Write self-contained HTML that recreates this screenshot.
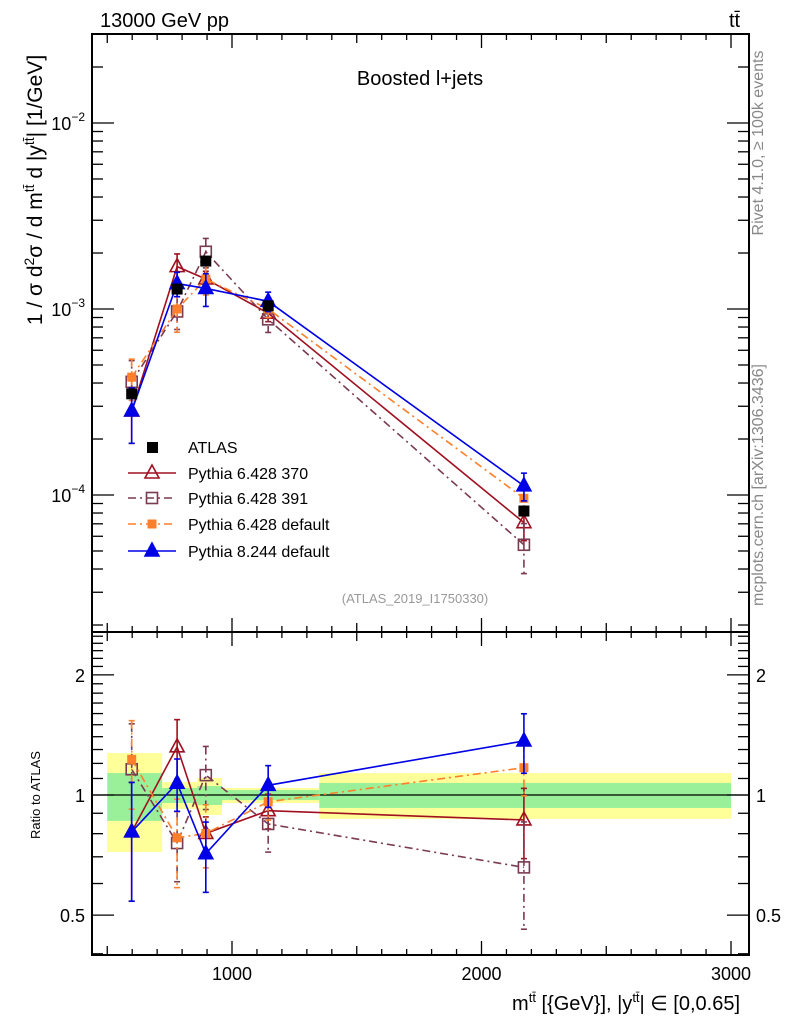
<!DOCTYPE html>
<html><head><meta charset="utf-8"><style>
body{margin:0;background:#fff;}
svg{display:block;font-family:"Liberation Sans",sans-serif;}
</style></head><body>
<svg id="c" width="786" height="1024" viewBox="0 0 786 1024" xmlns="http://www.w3.org/2000/svg">
<rect x="0" y="0" width="786" height="1024" fill="#fff"/>
<g id="bands"></g><g id="axes"></g><g id="marks"></g>
<text x="100" y="27" font-size="20">13000 GeV pp</text>
<text x="729" y="27" font-size="20">tt̄</text>
<text x="420" y="85" font-size="20" text-anchor="middle">Boosted l+jets</text>
<text x="415" y="603" font-size="13" fill="#999" text-anchor="middle">(ATLAS_2019_I1750330)</text>
<text transform="translate(42,190) rotate(-90)" font-size="21" text-anchor="middle">1 / σ d<tspan font-size="14" dy="-8">2</tspan><tspan dy="8">σ / d m</tspan><tspan font-size="14" dy="-8">tt̄</tspan><tspan dy="8"> d |y</tspan><tspan font-size="14" dy="-8">tt̄</tspan><tspan dy="8">| [1/GeV]</tspan></text>
<text transform="translate(40,795) rotate(-90)" font-size="13" text-anchor="middle">Ratio to ATLAS</text>
<text x="740" y="1010" font-size="20" text-anchor="end">m<tspan font-size="13" dy="-8">tt̄</tspan><tspan dy="8"> [{GeV}], |y</tspan><tspan font-size="13" dy="-8">tt̄</tspan><tspan dy="8">| ∈ [0,0.65]</tspan></text>
<text transform="translate(763,143) rotate(-90)" font-size="16" fill="#888" text-anchor="middle">Rivet 4.1.0, ≥ 100k events</text>
<text transform="translate(763,485) rotate(-90)" font-size="16" fill="#888" text-anchor="middle">mcplots.cern.ch [arXiv:1306.3436]</text>
</svg>
<script>
const xs=[598,780,895,1145,2170];
const binEdges=[500,720,860,960,1350,3000];
const atlas=[3.5e-4,1.28e-3,1.81e-3,1.04e-3,8.2e-5];
const bandYellowHi=[1.274,1.078,1.103,1.041,1.135];
const bandYellowLo=[0.72,0.923,0.891,0.955,0.871];
const bandGreenHi=[1.135,1.041,1.053,1.029,1.072];
const bandGreenLo=[0.861,0.955,0.944,0.971,0.928];
const p370=[2.83e-4,1.69e-3,1.45e-3,9.5e-4,7.1e-5];
const p370err=[0.33,0.17,0.1,0.1,0.2];
const p391=[4.06e-4,9.7e-4,2.03e-3,8.8e-4,5.4e-5];
const p391err=[0.3,0.2,0.18,0.15,0.3];
const p6def=[4.3e-4,1.0e-3,1.45e-3,1.0e-3,9.6e-5];
const p6deferr=[0.25,0.25,0.18,0.1,0.15];
const p8=[2.83e-4,1.37e-3,1.29e-3,1.10e-3,1.12e-4];
const p8err=[0.33,0.15,0.2,0.12,0.17];
const xTicks=[1000,2000,3000];
const ratioTicks=[0.5,1,2];

const NS="http://www.w3.org/2000/svg";
const L=92,R=749,T=34,M=632,B=955;
const X=v=>232+(v-1000)*(731-232)/2000;
const Y=v=>309-186*Math.log10(v/1e-3);
const YR=r=>795-399*Math.log10(r);
function mk(par,tag,at){const e=document.createElementNS(NS,tag);for(const k in at)e.setAttribute(k,at[k]);document.getElementById(par).appendChild(e);return e;}

for(let i=0;i<5;i++){
 const x0=X(binEdges[i]),x1=X(binEdges[i+1]);
 let b=mk('bands','rect',{x:x0,y:YR(bandYellowHi[i]),width:x1-x0,height:YR(bandYellowLo[i])-YR(bandYellowHi[i]),fill:'#ffff99'});
 
 
 let g=mk('bands','rect',{x:x0,y:YR(bandGreenHi[i]),width:x1-x0,height:YR(bandGreenLo[i])-YR(bandGreenHi[i]),fill:'#99f099'});
 
 
}
mk('axes','line',{x1:L,x2:R,y1:795,y2:795,stroke:'#000','stroke-width':1.3});

[[T,M],[M,B]].forEach(([a,b],i)=>{const f=mk('axes','rect',{x:L,y:a,width:R-L,height:b-a,fill:'none',stroke:'#000','stroke-width':2});
 
 });
for(let v=500;v<=3000;v+=100){const x=X(v);const len=v%1000==0?14:(v%500==0?9:6);
 [[T,1],[M,-1],[M,1],[B,-1]].forEach(([y,d])=>mk('axes','line',{x1:x,x2:x,y1:y,y2:y+d*len,stroke:'#000','stroke-width':1.3}));}
xTicks.forEach(v=>{const t=mk('axes','text',{x:X(v),y:980,'font-size':18,'text-anchor':'middle'});t.textContent=v;
 
 });
for(let e=-5;e<=-1;e++)for(let m=1;m<10;m++){const v=m*Math.pow(10,e);const y=Y(v);if(y<T||y>M)continue;const len=m==1?22:11;
 mk('axes','line',{x1:L,x2:L+len,y1:y,y2:y,stroke:'#000','stroke-width':1.3});mk('axes','line',{x1:R,x2:R-len,y1:y,y2:y,stroke:'#000','stroke-width':1.3});}
[-2,-3,-4].forEach(e=>{const t=mk('axes','text',{x:85,y:Y(Math.pow(10,e))+7,'font-size':18,'text-anchor':'end'});
 t.innerHTML='10<tspan font-size="12" dy="-9">'+e.toString().replace('-','−')+'</tspan>';
 
 });
for(let r=0.4;r<2.6;r+=0.1){const rr=Math.round(r*10)/10;const y=YR(rr);if(y<M||y>B)continue;const maj=(rr==0.5||rr==1||rr==2);const len=maj?22:11;
 mk('axes','line',{x1:L,x2:L+len,y1:y,y2:y,stroke:'#000','stroke-width':1.3});mk('axes','line',{x1:R,x2:R-len,y1:y,y2:y,stroke:'#000','stroke-width':1.3});}
ratioTicks.forEach(r=>{[[85,'end'],[756,'start']].forEach(([x,a])=>{const t=mk('axes','text',{x:x,y:YR(r)+7,'font-size':18,'text-anchor':a});t.textContent=r;
 
 });});

const series=[
 {name:'pythia-6428-370',vals:p370,err:p370err,col:'#a01020',dash:'',mark:'otri',label:'Pythia 6.428 370'},
 {name:'pythia-6428-391',vals:p391,err:p391err,col:'#7a3a52',dash:'8,4,2,4',mark:'osq',label:'Pythia 6.428 391'},
 {name:'pythia-6428-default',vals:p6def,err:p6deferr,col:'#ff7f2a',dash:'8,4,2,4',mark:'fsq',label:'Pythia 6.428 default'},
 {name:'pythia-8244-default',vals:p8,err:p8err,col:'#0000e6',dash:'',mark:'ftri',label:'Pythia 8.244 default'}];
function marker(type,x,y,col,nm){let e;
 if(type=='otri'||type=='ftri'){e=mk('marks','polygon',{points:`${x},${y-8} ${x-7},${y+5} ${x+7},${y+5}`,fill:type=='ftri'?col:'#fff','fill-opacity':type=='ftri'?1:0,stroke:col,'stroke-width':1.6});}
 else if(type=='osq'){e=mk('marks','rect',{x:x-5.5,y:y-5.5,width:11,height:11,fill:'none',stroke:col,'stroke-width':1.6});}
 else {e=mk('marks','rect',{x:x-4.5,y:y-4.5,width:9,height:9,fill:col});}
 
 }
function clampR(y){return Math.max(M+2,Math.min(B-2,y));}
series.forEach(s=>{
 const ptsM=s.vals.map((v,i)=>X(xs[i])+','+Y(v)).join(' ');
 const ptsR=s.vals.map((v,i)=>X(xs[i])+','+YR(v/atlas[i])).join(' ');
 [ptsM,ptsR].forEach((p,k)=>{const l=mk('marks','polyline',{points:p,fill:'none',stroke:s.col,'stroke-width':1.6,'stroke-dasharray':s.dash});
  
  });
 s.vals.forEach((v,i)=>{const x=X(xs[i]);const r=v/atlas[i];
  [[Y(v*(1+s.err[i])),Y(v*(1-s.err[i]))],[clampR(YR(r*(1+s.err[i]))),clampR(YR(r*(1-s.err[i])))]].forEach(([a,b])=>{
   mk('marks','line',{x1:x,x2:x,y1:a,y2:b,stroke:s.col,'stroke-width':1.6,'stroke-dasharray':s.dash});
   mk('marks','line',{x1:x-3,x2:x+3,y1:a,y2:a,stroke:s.col,'stroke-width':1.6});
   mk('marks','line',{x1:x-3,x2:x+3,y1:b,y2:b,stroke:s.col,'stroke-width':1.6});});
  marker(s.mark,x,Y(v),s.col,s.name+'-point');
  marker(s.mark,x,YR(r),s.col,s.name+'-ratio-point');});
});
atlas.forEach((v,i)=>{const x=X(xs[i]);const e=mk('marks','rect',{x:x-5.5,y:Y(v)-5.5,width:11,height:11,fill:'#000'});
 
 });

const ly=[447,473,498,524,551];
let e=mk('marks','rect',{x:147,y:ly[0]-5,width:11,height:11,fill:'#000'});


let t=mk('marks','text',{x:188,y:ly[0]+6,'font-size':16});t.textContent='ATLAS';


series.forEach((s,k)=>{const y=ly[k+1];
 const l=mk('marks','line',{x1:128,x2:176,y1:y,y2:y,stroke:s.col,'stroke-width':1.6,'stroke-dasharray':s.dash});
 
 
 marker(s.mark,152,y,s.col,'legend-marker');
 const tx=mk('marks','text',{x:188,y:y+6,'font-size':16});tx.textContent=s.label;
 
 });
</script>
</body></html>
